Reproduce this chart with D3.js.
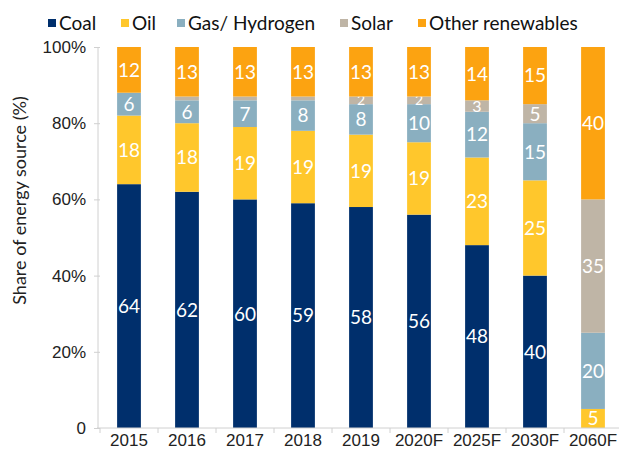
<!DOCTYPE html>
<html>
<head>
<meta charset="utf-8">
<script src="https://cdn.jsdelivr.net/npm/d3@7"></script>
<style>
  body { margin: 0; background: #fff; }
  svg { font-family: Lato, "Noto Sans", sans-serif; }
</style>
</head>
<body>
<svg width="619" height="450"></svg>
<script>
const YEARS = ['2015', '2016', '2017', '2018', '2019', '2020F', '2025F', '2030F', '2060F'];
const COAL = [64, 62, 60, 59, 58, 56, 48, 40, 0];
const OIL = [18, 18, 19, 19, 19, 19, 23, 25, 5];
const GAS = [6, 6, 7, 8, 8, 10, 12, 15, 20];
const SOLAR = [0, 1, 1, 1, 2, 2, 3, 5, 35];
const OTHER = [12, 13, 13, 13, 13, 13, 14, 15, 40];
const SERIES = ['Coal', 'Oil', 'Gas/ Hydrogen', 'Solar', 'Other renewables'];
const COLORS = ['#002f6c', '#ffc72c', '#8aafc0', '#bfb5a6', '#fca311'];
const Y_TICKS = [0, 20, 40, 60, 80, 100];

const MARGIN = {top: 47, left: 100, bottom: 22};
const WIDTH = 522;
const HEIGHT = 450 - MARGIN.top - MARGIN.bottom; // 381

const values = [COAL, OIL, GAS, SOLAR, OTHER];
// build rows for d3.stack
const rows = YEARS.map((yr, i) => {
    const r = {year: yr};
    SERIES.forEach((s, j) => r[s] = values[j][i]);
    return r;
});
const stacked = d3.stack().keys(SERIES)(rows);

const x = d3.scaleBand().domain(YEARS).range([0, WIDTH]).paddingInner(0.59).paddingOuter(0.295);
const y = d3.scaleLinear().domain([0, 100]).range([HEIGHT, 0]);

const svg = d3.select('svg');
const chart = svg.append('g').attr('transform', `translate(${MARGIN.left}, ${MARGIN.top})`);

// bars
const layers = chart.selectAll('.layer').data(stacked).enter()
    .append('g').attr('class', 'layer')
    .attr('fill', (d, i) => COLORS[i]);

layers.selectAll('rect').data(d => d).enter()
    .append('rect')
    .attr('x', d => x(d.data.year))
    .attr('width', x.bandwidth())
    .attr('y', d => y(d[1]))
    .attr('height', d => y(d[0]) - y(d[1]));

// value labels, small ones are left out
layers.selectAll('text').data(d => d.map(p => ({p, v: p[1] - p[0]}))).enter()
    .filter(d => d.v >= 2)
    .append('text')
    .attr('x', d => x(d.p.data.year) + x.bandwidth() / 2)
    .attr('y', d => (y(d.p[0]) + y(d.p[1])) / 2)
    .attr('dy', '0.36em')
    .attr('text-anchor', 'middle')
    .attr('fill', '#fff')
    .style('font-size', d => d.v <= 2 ? '14px' : (d.v <= 3 ? '16px' : '19px'))
    .text(d => d.v);

// x axis
const xAxis = chart.append('g')
    .attr('transform', `translate(0, ${HEIGHT})`)
    .call(d3.axisBottom(x).tickSize(0).tickPadding(6));
xAxis.select('.domain').attr('stroke', '#d0d0d0').attr('d', `M-3,0H${WIDTH}`);
xAxis.selectAll('text').style('font-size', '17px').attr('fill', '#222');
// ticks between categories
chart.append('g').selectAll('line')
    .data(YEARS.map((d, i) => i))
    .enter().append('line')
    .attr('x1', i => x(YEARS[i]) - x.step() * x.paddingInner() / 2)
    .attr('x2', i => x(YEARS[i]) - x.step() * x.paddingInner() / 2)
    .attr('y1', HEIGHT).attr('y2', HEIGHT + 5)
    .attr('stroke', '#d0d0d0');

// y axis
const yAxis = chart.append('g')
    .call(d3.axisLeft(y).tickValues(Y_TICKS).tickSize(6).tickPadding(8)
        .tickFormat(d => d === 0 ? '0' : d + '%'));
yAxis.select('.domain').attr('stroke', '#d0d0d0').attr('d', `M-2,0V${HEIGHT}`);
yAxis.selectAll('.tick line').attr('stroke', '#d0d0d0');
yAxis.selectAll('text').style('font-size', '17px').attr('fill', '#222');

svg.append('text')
    .attr('transform', `translate(26, ${MARGIN.top + HEIGHT / 2 - 37}) rotate(-90)`)
    .attr('text-anchor', 'middle')
    .style('font-size', '18px')
    .attr('fill', '#222')
    .text('Share of energy source (%)');

// legend
const LEGEND_X = [48, 121, 177, 340, 418];
const legend = svg.append('g').selectAll('g').data(SERIES).enter()
    .append('g').attr('transform', (d, i) => `translate(${LEGEND_X[i]}, 23)`);
legend.append('rect').attr('x', 0).attr('y', -4).attr('width', 8).attr('height', 8)
    .attr('fill', (d, i) => COLORS[i]);
legend.append('text').attr('x', 11).attr('y', 0).attr('dy', '0.35em')
    .style('font-size', '19px').attr('fill', '#111')
    .text(d => d);
</script>
</body>
</html>
